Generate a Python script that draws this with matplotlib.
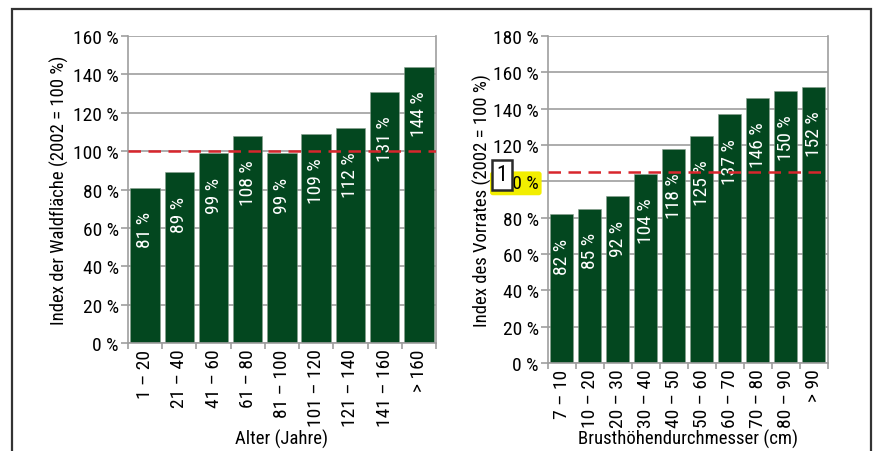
import matplotlib
matplotlib.use('Agg')
import matplotlib.pyplot as plt
from matplotlib.patches import Rectangle

plt.rcParams['font.family'] = ['Liberation Sans Narrow', 'Roboto Condensed', 'Liberation Sans', 'DejaVu Sans']

# Alter (Jahre) -> Index der Waldflaeche
age_classes = ['1 – 20', '21 – 40', '41 – 60', '61 – 80', '81 – 100',
               '101 – 120', '121 – 140', '141 – 160', '> 160']
area_index = [81, 89, 99, 108, 99, 109, 112, 131, 144]
area_ref = 100

# Brusthoehendurchmesser (cm) -> Index des Vorrates
dbh_classes = ['7 – 10', '10 – 20', '20 – 30', '30 – 40', '40 – 50',
               '50 – 60', '60 – 70', '70 – 80', '80 – 90', '> 90']
stock_index = [82, 85, 92, 104, 118, 125, 137, 146, 150, 152]
stock_ref = 105

bar_color = '#03471f'
grid_color = '#9e9e9e'
red = '#d8262d'
fs = 14
fs_lab = 13.5

fig = plt.figure(figsize=(8.73, 4.52), dpi=100)

# outer frame
fig.add_artist(Rectangle((12 / 873, -0.05), (871 - 12) / 873, 1.05 - 10 / 452,
                         transform=fig.transFigure, fill=False,
                         edgecolor='#333333', linewidth=1.6))

ax1 = fig.add_axes([0.1466, 0.2389, 0.3528, 0.6792])
ax2 = fig.add_axes([0.6274, 0.1947, 0.3206, 0.7234])


def draw_panel(ax, cats, vals, ymax, ref, width, xlabel, ylabel):
    x = list(range(len(cats)))
    ax.set_axisbelow(True)
    ax.yaxis.grid(True, color=grid_color, linewidth=1.2)
    ax.bar(x, vals, width=width, color=bar_color, edgecolor='#8aa08f', linewidth=0.4, zorder=2)
    ax.axhline(ref, color=red, linestyle=(0, (5, 3)), linewidth=1.8, zorder=5)
    for xi, v in zip(x, vals):
        ax.annotate('%d %%' % v, (xi, v), xytext=(0, -17), textcoords='offset points',
                    rotation=90, ha='center', va='top', color='white', fontsize=fs, zorder=4)
    ax.set_xlim(-0.5, len(cats) - 0.5)
    ax.set_ylim(0, ymax)
    ax.set_yticks(range(0, ymax + 1, 20))
    ax.set_yticklabels(['%d %%' % t for t in range(0, ymax + 1, 20)], fontsize=fs)
    ax.set_xticks(x)
    ax.set_xticklabels(cats, rotation=90, fontsize=fs)
    ax.set_xticks([i - 0.5 for i in range(len(cats) + 1)], minor=True)
    ax.tick_params(axis='x', which='major', length=0, pad=4)
    ax.tick_params(axis='x', which='minor', length=4, color=grid_color, width=1.2)
    ax.tick_params(axis='y', length=5, color=grid_color, width=1.2, pad=1.5)
    ax.spines['top'].set_visible(False)
    for s in ['left', 'right', 'bottom']:
        ax.spines[s].set_color(grid_color)
        ax.spines[s].set_linewidth(1.2)
    ax.set_xlabel(xlabel, fontsize=fs_lab)
    ax.set_ylabel(ylabel, fontsize=fs_lab)


draw_panel(ax1, age_classes, area_index, 160, area_ref, 0.86,
           'Alter (Jahre)', 'Index der Waldfläche (2002 = 100 %)')
draw_panel(ax2, dbh_classes, stock_index, 180, stock_ref, 0.82,
           'Brusthöhendurchmesser (cm)', 'Index des Vorrates (2002 = 100 %)')

ax1.yaxis.set_label_coords(-0.19, 0.5)
ax2.yaxis.set_label_coords(-0.20, 0.5)
ax1.xaxis.set_label_coords(0.5, -0.28)
ax2.xaxis.set_label_coords(0.5, -0.20)

# yellow highlight on the 100 % label of the right panel, with a boxed "1" over it
for lab in ax2.get_yticklabels():
    if lab.get_text() == '100 %':
        lab.set_bbox(dict(boxstyle='round,pad=0.15', facecolor='#f2ee00', edgecolor='none'))
fig.text(502 / 873, 1 - 176 / 452, '1', fontsize=16, ha='center', va='center', zorder=10,
         bbox=dict(boxstyle='square,pad=0.22', facecolor='white', edgecolor='#2a2a2a', linewidth=1.8))

fig.savefig('out.png', dpi=100)
